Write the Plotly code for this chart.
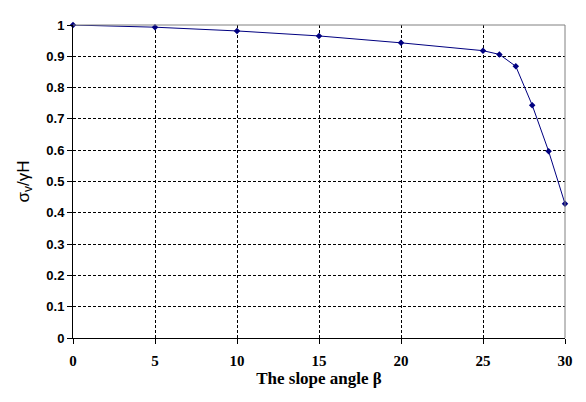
import plotly.graph_objects as go

beta = [0, 5, 10, 15, 20, 25, 26, 27, 28, 29, 30]
ratio = [1.0, 0.993, 0.981, 0.965, 0.943, 0.918, 0.906, 0.868, 0.744, 0.597, 0.429]
xticks = [0, 5, 10, 15, 20, 25, 30]
yticks = [0, 0.1, 0.2, 0.3, 0.4, 0.5, 0.6, 0.7, 0.8, 0.9, 1]

fig = go.Figure()
fig.add_trace(go.Scatter(
    x=beta, y=ratio, mode="lines+markers",
    line=dict(color="#000080", width=1),
    marker=dict(symbol="diamond", size=5, color="#000080"),
    showlegend=False, cliponaxis=False,
))

fig.update_layout(
    width=578, height=394,
    margin=dict(l=65, r=21, t=10, b=64),
    paper_bgcolor="white", plot_bgcolor="white",
    xaxis=dict(
        range=[0, 30], tickvals=xticks, ticktext=[str(v) for v in xticks],
        showgrid=True, gridcolor="black", griddash="3px,2px", gridwidth=1,
        showline=True, linecolor="black", linewidth=1, mirror=False,
        ticks="outside", ticklen=5, tickcolor="black", ticklabelstandoff=4,
        tickfont=dict(family="Liberation Serif", size=15, color="black", weight="bold"),
        title=dict(text="The slope angle β", standoff=1,
                   font=dict(family="Liberation Serif", size=17, color="black", weight="bold")),
        zeroline=False,
    ),
    yaxis=dict(
        range=[0, 1], tickvals=yticks, ticktext=[f"{v:g}" for v in yticks],
        showgrid=True, gridcolor="black", griddash="3px,2px", gridwidth=1,
        showline=True, linecolor="black", linewidth=1,
        ticks="outside", ticklen=5, tickcolor="black",
        tickfont=dict(family="Liberation Sans", size=13, color="black", weight="bold"),
        title=dict(text="σ<sub>v</sub>/γH", standoff=12,
                   font=dict(family="Liberation Sans", size=17, color="black")),
        zeroline=False,
    ),
)
# gray top and right border of plot area
fig.add_shape(type="line", xref="paper", yref="paper", x0=0, x1=1, y0=1, y1=1,
              line=dict(color="gray", width=1))
fig.add_shape(type="line", xref="paper", yref="paper", x0=1, x1=1, y0=0, y1=1,
              line=dict(color="gray", width=1))

fig.write_html("out.html")
